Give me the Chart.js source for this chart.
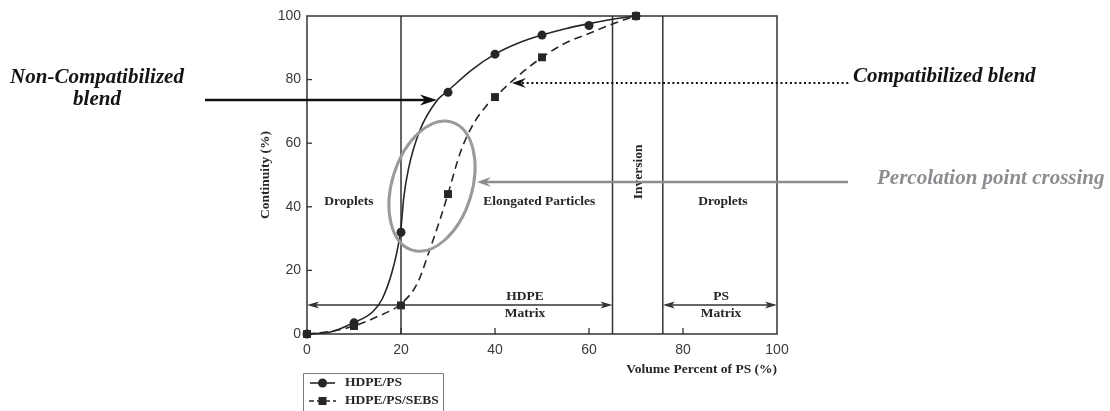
<!DOCTYPE html>
<html>
<head>
<meta charset="utf-8">
<script src="https://cdn.jsdelivr.net/npm/chart.js@4.4.1/dist/chart.umd.min.js"></script>
<style>
  html, body { margin: 0; padding: 0; background: #ffffff; }
  #wrap { width: 1110px; height: 411px; position: relative; }
</style>
</head>
<body>
<div id="wrap"><canvas id="chart" width="1110" height="411"></canvas></div>
<script>
// Measured continuity of the PS phase versus blend composition
const psVolume = [0, 10, 20, 30, 40, 50, 60, 70];
const continuityHdpePs = [0, 3.5, 32, 76, 88, 94, 97, 100];
const sebsVolume = [0, 10, 20, 30, 40, 50, 70];
const continuityHdpePsSebs = [0, 2.5, 9, 44, 74.5, 87, 100];

// Smooth trend curves through each data set
const trendXHdpePs = [0, 5, 10, 14, 16, 18, 19.3, 20, 20.6, 21.6, 24, 27.7, 30, 35, 40, 45, 50, 55, 60, 65, 70];
const trendYHdpePs = [0, 0.6, 3.6, 7, 11, 19, 27, 33.5, 43, 52, 64, 73.5, 76.5, 83, 88, 91.5, 94, 96, 97.6, 99, 100];
const trendXSebs = [0, 5, 10, 15, 20, 23.5, 26, 28.3, 30, 32.6, 35, 38, 40, 44, 50, 55, 60, 65, 70];
const trendYSebs = [0, 0.8, 2.5, 5.5, 9.5, 16, 26, 36, 44, 57, 65, 71.5, 74.5, 80, 87, 91.5, 94.5, 97.5, 100];

// Morphology boundaries (vol % PS) and the matrix arrows
const regionBounds = [20, 65, 75.7];
const hdpeMatrixSpan = [0, 65];
const psMatrixSpan = [75.7, 100];
const matrixLevel = 9.1;

// Axis ticks
const xTickValues = [0, 20, 40, 60, 80, 100];
const yTickValues = [0, 20, 40, 60, 80, 100];

// Text
const seriesNames = ['HDPE/PS', 'HDPE/PS/SEBS'];
const regionNames = ['Droplets', 'Elongated Particles', 'Inversion', 'Droplets'];
const matrixNames = [['HDPE', 'Matrix'], ['PS', 'Matrix']];

const pairs = (xs, ys) => xs.map((v, i) => ({ x: v, y: ys[i] }));

const SERIF = '"Liberation Serif", "Times New Roman", serif';
const SANS = '"Liberation Sans", Arial, sans-serif';
const INK = '#262626';
const GREY = '#8d8d91';

function arrowHead(ctx, tipX, tipY, dir, len, half, notch, color) {
  // dir: +1 points right, -1 points left
  ctx.save();
  ctx.fillStyle = color;
  ctx.beginPath();
  ctx.moveTo(tipX, tipY);
  ctx.lineTo(tipX - dir * len, tipY - half);
  ctx.lineTo(tipX - dir * (len - notch), tipY);
  ctx.lineTo(tipX - dir * len, tipY + half);
  ctx.closePath();
  ctx.fill();
  ctx.restore();
}

function hLine(ctx, x1, x2, y) {
  ctx.beginPath();
  ctx.moveTo(x1, y);
  ctx.lineTo(x2, y);
  ctx.stroke();
}

const decor = {
  id: 'decor',
  beforeDatasetsDraw(chart) {
    const { ctx, chartArea: a, scales: { x, y } } = chart;
    ctx.save();
    ctx.strokeStyle = '#333333';
    ctx.lineWidth = 1.5;
    ctx.strokeRect(a.left, a.top, a.right - a.left, a.bottom - a.top);

    // region boundaries
    regionBounds.forEach(v => {
      const px = x.getPixelForValue(v);
      ctx.beginPath();
      ctx.moveTo(px, a.top);
      ctx.lineTo(px, a.bottom);
      ctx.stroke();
    });

    // inward tick marks
    ctx.lineWidth = 1.3;
    yTickValues.slice(1, -1).forEach(v => {
      const py = y.getPixelForValue(v);
      hLine(ctx, a.left, a.left + 5, py);
    });
    xTickValues.slice(1, -1).forEach(v => {
      const px = x.getPixelForValue(v);
      ctx.beginPath();
      ctx.moveTo(px, a.bottom);
      ctx.lineTo(px, a.bottom - 6);
      ctx.stroke();
    });

    // matrix double arrows
    const my = y.getPixelForValue(matrixLevel);
    ctx.lineWidth = 1.5;
    [hdpeMatrixSpan, psMatrixSpan].forEach(span => {
      const x1 = x.getPixelForValue(span[0]);
      const x2 = x.getPixelForValue(span[1]);
      hLine(ctx, x1 + 4, x2 - 4, my);
      arrowHead(ctx, x1, my, -1, 12, 3.5, 3, '#333333');
      arrowHead(ctx, x2, my, 1, 12, 3.5, 3, '#333333');
    });

    // region and matrix labels
    ctx.fillStyle = INK;
    ctx.font = 'bold 13.5px ' + SERIF;
    ctx.textAlign = 'center';
    ctx.textBaseline = 'middle';
    const labelY = y.getPixelForValue(41.8);
    ctx.fillText(regionNames[0], x.getPixelForValue(8.9), labelY);
    ctx.fillText(regionNames[1], x.getPixelForValue(49.4), labelY);
    ctx.fillText(regionNames[3], x.getPixelForValue(88.5), labelY);
    ctx.save();
    ctx.translate(x.getPixelForValue(70.6), y.getPixelForValue(51));
    ctx.rotate(-Math.PI / 2);
    ctx.fillText(regionNames[2], 0, 0);
    ctx.restore();

    ctx.fillText(matrixNames[0][0], x.getPixelForValue(46.4), my - 9);
    ctx.fillText(matrixNames[0][1], x.getPixelForValue(46.4), my + 8);
    ctx.fillText(matrixNames[1][0], x.getPixelForValue(88.1), my - 9);
    ctx.fillText(matrixNames[1][1], x.getPixelForValue(88.1), my + 8);
    ctx.restore();
  },
  afterDatasetsDraw(chart) {
    const { ctx, chartArea: a, scales: { x, y } } = chart;
    ctx.save();

    // percolation ellipse
    ctx.strokeStyle = '#9a9a9c';
    ctx.lineWidth = 3;
    ctx.beginPath();
    ctx.ellipse(x.getPixelForValue(26.6), y.getPixelForValue(46.5), 40, 67, 0.3, 0, Math.PI * 2);
    ctx.stroke();

    // pointer: non-compatibilized blend
    ctx.strokeStyle = '#111111';
    ctx.lineWidth = 2.5;
    hLine(ctx, 205, 428, 100);
    arrowHead(ctx, 437, 100, 1, 17, 5.5, 5, '#111111');

    // pointer: compatibilized blend (dotted)
    ctx.lineWidth = 2;
    ctx.setLineDash([2, 2.7]);
    hLine(ctx, 522, 851, 83);
    ctx.setLineDash([]);
    arrowHead(ctx, 512, 83, -1, 14, 5, 5, '#111111');

    // pointer: percolation point crossing
    ctx.strokeStyle = GREY;
    ctx.lineWidth = 2.5;
    hLine(ctx, 486, 848, 182);
    arrowHead(ctx, 477, 182, -1, 14, 5, 5, GREY);

    // annotation text
    ctx.font = 'italic bold 21px ' + SERIF;
    ctx.textBaseline = 'alphabetic';
    ctx.fillStyle = '#141414';
    ctx.textAlign = 'center';
    ctx.fillText('Non-Compatibilized', 97, 83);
    ctx.fillText('blend', 97, 105);
    ctx.textAlign = 'left';
    ctx.fillText('Compatibilized blend', 853, 82);
    ctx.fillStyle = GREY;
    ctx.fillText('Percolation point crossing', 877, 184);

    // legend
    ctx.strokeStyle = '#7a7a7a';
    ctx.lineWidth = 1;
    ctx.beginPath();
    ctx.moveTo(303.5, 420);
    ctx.lineTo(303.5, 373.5);
    ctx.lineTo(443.5, 373.5);
    ctx.lineTo(443.5, 420);
    ctx.stroke();

    const rows = [383, 401];
    ctx.strokeStyle = INK;
    ctx.fillStyle = INK;
    ctx.lineWidth = 1.6;
    hLine(ctx, 310, 335, rows[0]);
    ctx.beginPath();
    ctx.arc(322.5, rows[0], 4.5, 0, Math.PI * 2);
    ctx.fill();
    ctx.setLineDash([5, 3]);
    hLine(ctx, 309, 336, rows[1]);
    ctx.setLineDash([]);
    ctx.fillRect(318.5, rows[1] - 4, 8, 8);

    ctx.font = 'bold 13.5px ' + SERIF;
    ctx.textAlign = 'left';
    ctx.textBaseline = 'middle';
    ctx.fillText(seriesNames[0], 345, rows[0]);
    ctx.fillText(seriesNames[1], 345, rows[1]);
    ctx.restore();
  }
};

const chart = new Chart(document.getElementById('chart'), {
  type: 'scatter',
  data: {
    datasets: [
      {
        label: seriesNames[0],
        data: pairs(psVolume, continuityHdpePs),
        showLine: false,
        pointStyle: 'circle',
        pointRadius: 4.5,
        backgroundColor: INK,
        borderColor: INK,
        borderWidth: 0,
        clip: false
      },
      {
        label: seriesNames[1],
        data: pairs(sebsVolume, continuityHdpePsSebs),
        showLine: false,
        pointStyle: 'rect',
        pointRadius: 5.6,
        backgroundColor: INK,
        borderColor: INK,
        borderWidth: 0,
        clip: false
      },
      {
        label: seriesNames[0] + ' trend',
        data: pairs(trendXHdpePs, trendYHdpePs),
        showLine: true,
        pointRadius: 0,
        borderColor: INK,
        borderWidth: 1.6,
        cubicInterpolationMode: 'monotone',
        fill: false,
        clip: false
      },
      {
        label: seriesNames[1] + ' trend',
        data: pairs(trendXSebs, trendYSebs),
        showLine: true,
        pointRadius: 0,
        borderColor: INK,
        borderWidth: 1.6,
        borderDash: [8, 5],
        cubicInterpolationMode: 'monotone',
        fill: false,
        clip: false
      }
    ]
  },
  options: {
    responsive: false,
    animation: false,
    events: [],
    layout: { padding: { left: 247, right: 333, top: 16, bottom: 27 } },
    plugins: { legend: { display: false }, tooltip: { enabled: false } },
    scales: {
      x: {
        type: 'linear',
        min: 0,
        max: 100,
        afterBuildTicks(s) { s.ticks = xTickValues.map(v => ({ value: v })); },
        afterFit(s) { s.height = 50; s.paddingLeft = 0; s.paddingRight = 0; },
        grid: { display: false, drawTicks: false },
        border: { display: false },
        ticks: { padding: 8, color: '#3a3a3a', font: { family: SANS, size: 14 } },
        title: {
          display: true,
          text: 'Volume Percent of PS (%)',
          align: 'end',
          color: INK,
          font: { family: SERIF, size: 13.5, weight: 'bold' },
          padding: { top: 0, bottom: 6 }
        }
      },
      y: {
        type: 'linear',
        min: 0,
        max: 100,
        afterBuildTicks(s) { s.ticks = yTickValues.map(v => ({ value: v })); },
        afterFit(s) { s.width = 60; s.paddingTop = 0; s.paddingBottom = 0; },
        grid: { display: false, drawTicks: false },
        border: { display: false },
        ticks: { padding: 6, color: '#3a3a3a', font: { family: SANS, size: 14 } },
        title: {
          display: true,
          text: 'Continuity (%)',
          color: INK,
          font: { family: SERIF, size: 13.5, weight: 'bold' },
          padding: { top: 10, bottom: 0 }
        }
      }
    }
  },
  plugins: [decor]
});
</script>
</body>
</html>
